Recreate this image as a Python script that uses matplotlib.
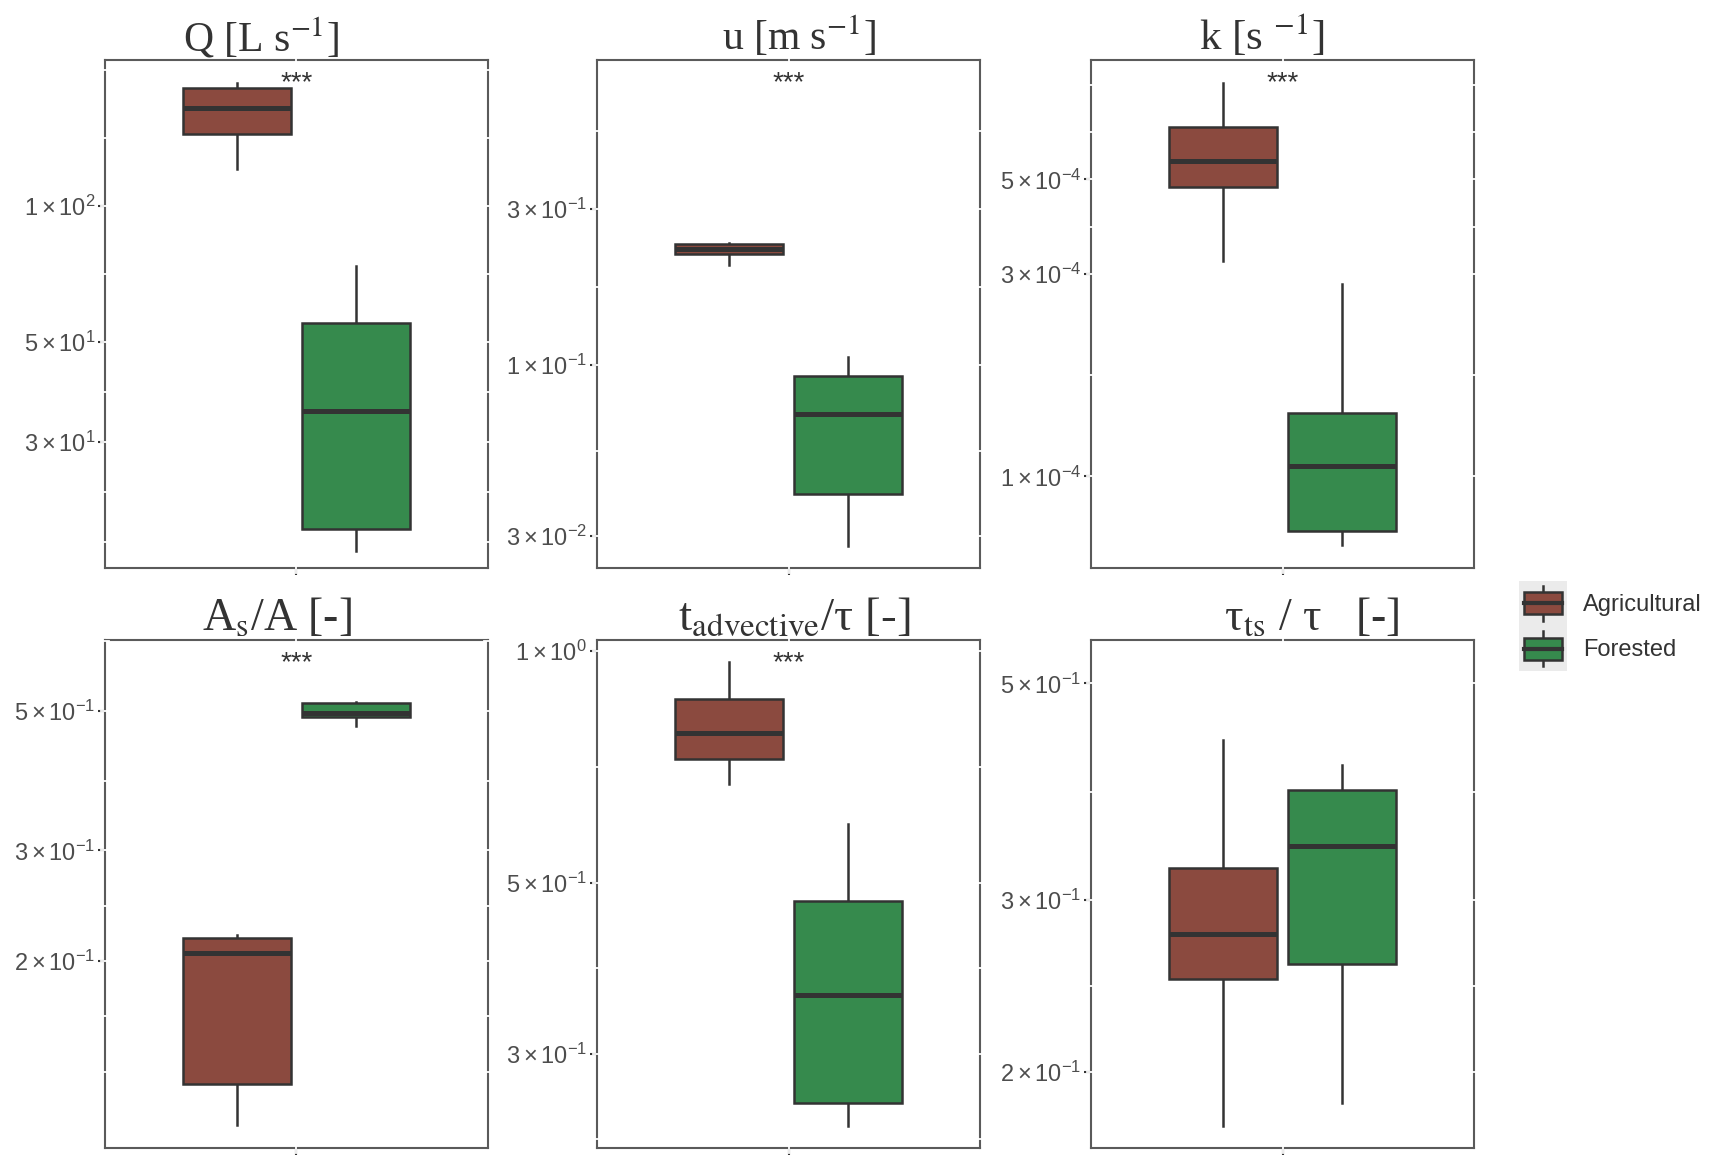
import numpy as np
import matplotlib
matplotlib.use("Agg")
import matplotlib.pyplot as plt
from matplotlib.patches import Rectangle, Patch
from matplotlib.lines import Line2D
from matplotlib.legend_handler import HandlerBase
from matplotlib.ticker import NullLocator

plt.rcParams["font.family"] = ["Liberation Sans", "DejaVu Sans"]
plt.rcParams["mathtext.fontset"] = "custom"
plt.rcParams["mathtext.rm"] = "Liberation Sans"
plt.rcParams["mathtext.it"] = "Liberation Sans:italic"
plt.rcParams["mathtext.bf"] = "Liberation Sans:bold"

# groups and colours
groups = ["Agricultural", "Forested"]
fills = ["#8b4a3f", "#368a4d"]

# five-number summaries: [whisker low, q1, median, q3, whisker high]
q_agri = [120.8, 144.0, 164.6, 181.7, 187.0]
q_forest = [17.2, 19.3, 35.1, 54.9, 73.6]
u_agri = [0.2027, 0.219, 0.226, 0.234, 0.236]
u_forest = [0.0281, 0.0405, 0.0709, 0.0925, 0.1056]
k_agri = [3.21e-4, 4.79e-4, 5.53e-4, 6.63e-4, 8.41e-4]
k_forest = [6.9e-5, 7.43e-5, 1.058e-4, 1.413e-4, 2.83e-4]
as_agri = [0.1098, 0.1274, 0.206, 0.218, 0.220]
as_forest = [0.4735, 0.490, 0.497, 0.516, 0.518]
tadv_agri = [0.671, 0.724, 0.782, 0.866, 0.966]
tadv_forest = [0.2422, 0.2594, 0.358, 0.474, 0.596]
tts_agri = [0.1763, 0.2493, 0.2769, 0.3235, 0.4381]
tts_forest = [0.1858, 0.2578, 0.3411, 0.3894, 0.4128]

titles = [
    r"Q [L s$^{\mathrm{-1}}$]",
    r"u [m s$^{\mathrm{-1}}$]",
    r"k [s $^{\mathrm{-1}}$]",
    r"A$_{\mathrm{s}}$/A [-]",
    r"t$_{\mathrm{advective}}$/τ [-]",
    r"τ$_{\mathrm{ts}}$ / τ   [-]",
]
title_sizes = [30, 30, 31, 33, 34, 33]
title_pads = [2, 7, 7, 0, -1, 0]
title_shift = [-35, 10, -21, -20, 6, 29]   # px from panel centre

y_ticks = [
    [30, 50, 100],
    [0.03, 0.1, 0.3],
    [1e-4, 3e-4, 5e-4],
    [0.2, 0.3, 0.5],
    [0.3, 0.5, 1.0],
    [0.2, 0.3, 0.5],
]
y_tick_labels = [
    [r"$3\times10^{1}$", r"$5\times10^{1}$", r"$1\times10^{2}$"],
    [r"$3\times10^{-2}$", r"$1\times10^{-1}$", r"$3\times10^{-1}$"],
    [r"$1\times10^{-4}$", r"$3\times10^{-4}$", r"$5\times10^{-4}$"],
    [r"$2\times10^{-1}$", r"$3\times10^{-1}$", r"$5\times10^{-1}$"],
    [r"$3\times10^{-1}$", r"$5\times10^{-1}$", r"$1\times10^{0}$"],
    [r"$2\times10^{-1}$", r"$3\times10^{-1}$", r"$5\times10^{-1}$"],
]
y_limits = [
    (15.8, 210),
    (0.024, 0.855),
    (6.09e-5, 9.55e-4),
    (0.1008, 0.649),
    (0.2265, 1.033),
    (0.1672, 0.554),
]
signif = ["***", "***", "***", "***", "***", ""]

panels = [
    (q_agri, q_forest),
    (u_agri, u_forest),
    (k_agri, k_forest),
    (as_agri, as_forest),
    (tadv_agri, tadv_forest),
    (tts_agri, tts_forest),
]

W, H = 1712, 1166
col_left = [105, 597, 1091]
row_top = [60, 640]
ax_w, ax_h = 383, 508

dark = "#333333"
frame = "#5a5a5a"


def stats_of(v):
    return dict(whislo=v[0], q1=v[1], med=v[2], q3=v[3], whishi=v[4], fliers=[])


def minor_breaks(majors):
    # ggplot style: majors plus midpoints, extended one step past each end
    b = np.log10(majors)
    d = np.diff(b)
    ext = np.concatenate([[b[0] - d[0]], b, [b[-1] + d[-1]]])
    mids = (ext[:-1] + ext[1:]) / 2
    return 10 ** np.concatenate([ext, mids])


class BoxKey(HandlerBase):
    def create_artists(self, legend, orig_handle, xdescent, ydescent,
                       width, height, fontsize, trans):
        sp = legend.labelspacing * fontsize / 2
        x0 = -xdescent
        y0 = -ydescent
        bg = Rectangle((x0, y0 - sp), width, height + 2 * sp,
                       facecolor="#ebebeb", edgecolor="none", transform=trans)
        bw, bh = width * 0.8, height * 0.7
        bx, by = x0 + (width - bw) / 2, y0 + (height - bh) / 2
        xm = x0 + width / 2
        stub = height * 0.2
        w_lo = Line2D([xm, xm], [by - stub, by], color=dark, lw=1.8, transform=trans)
        w_hi = Line2D([xm, xm], [by + bh, by + bh + stub], color=dark, lw=1.8,
                      transform=trans)
        box = Rectangle((bx, by), bw, bh, facecolor=orig_handle.get_facecolor(),
                        edgecolor=dark, lw=1.8, transform=trans)
        med = Line2D([bx, bx + bw], [by + bh / 2] * 2, color=dark, lw=3.0,
                     transform=trans)
        return [bg, w_lo, w_hi, box, med]


fig = plt.figure(figsize=(W / 100, H / 100), dpi=100)
fig.patch.set_facecolor("white")

for i, (agri, forest) in enumerate(panels):
    r, c = divmod(i, 3)
    left = col_left[c] / W
    bottom = 1 - (row_top[r] + ax_h) / H
    ax = fig.add_axes([left, bottom, ax_w / W, ax_h / H])
    ax.set_yscale("log")
    ax.set_ylim(*y_limits[i])
    ax.set_xlim(0.4, 1.6)

    bp = ax.bxp(
        [stats_of(agri), stats_of(forest)],
        positions=[0.8125, 1.1875],
        widths=0.3375,
        showcaps=False,
        showfliers=False,
        patch_artist=True,
        boxprops=dict(edgecolor=dark, linewidth=1.8),
        whiskerprops=dict(color=dark, linewidth=1.8),
        medianprops=dict(color=dark, linewidth=3.6, solid_capstyle="butt"),
    )
    for patch, col in zip(bp["boxes"], fills):
        patch.set_facecolor(col)
        patch.set_zorder(4)
    for ln in bp["whiskers"]:
        ln.set_zorder(3.5)
    for ln in bp["medians"]:
        ln.set_zorder(5)

    # short white breaks where ggplot's grid lines cross the panel border
    for yv in minor_breaks(y_ticks[i]):
        if not (y_limits[i][0] < yv < y_limits[i][1]):
            continue
        for xa, xb in [(-0.01, 0.01), (0.99, 1.01)]:
            ax.axhline(yv, xmin=xa, xmax=xb, color="white", lw=1.3,
                       zorder=2.6, clip_on=False)
    for ya, yb in [(-0.01, 0.01), (0.99, 1.01)]:
        ax.axvline(1, ymin=ya, ymax=yb, color="white", lw=1.3, zorder=2.6,
                   clip_on=False)

    ax.set_yticks(y_ticks[i])
    ax.set_yticklabels(y_tick_labels[i])
    ax.yaxis.set_minor_locator(NullLocator())
    ax.set_xticks([1])
    ax.set_xticklabels([""])
    ax.tick_params(axis="both", length=5, width=1.5, color=dark,
                   labelsize=17, labelcolor="#4d4d4d", pad=2)

    for s in ax.spines.values():
        s.set_color(frame)
        s.set_linewidth(1.5)

    t = ax.set_title(titles[i], fontsize=title_sizes[i], pad=title_pads[i],
                     color="#333333", family=["Liberation Serif", "DejaVu Serif"],
                     math_fontfamily="stix")
    t.set_x(0.5 + title_shift[i] / ax_w)

    if signif[i]:
        ax.text(0.5, 0.955, signif[i], transform=ax.transAxes, ha="center",
                va="center", fontsize=20, color=dark)

handles = [Patch(facecolor=f) for f in fills]
fig.legend(
    handles, groups,
    handler_map={Patch: BoxKey()},
    loc="center left",
    bbox_to_anchor=(1519 / W, 1 - 626 / H),
    frameon=False,
    fontsize=17,
    handlelength=2.03,
    handleheight=1.7,
    labelspacing=0.57,
    handletextpad=0.68,
    borderpad=0,
    borderaxespad=0,
    labelcolor="#333333",
)

fig.savefig("out.png", dpi=100)
